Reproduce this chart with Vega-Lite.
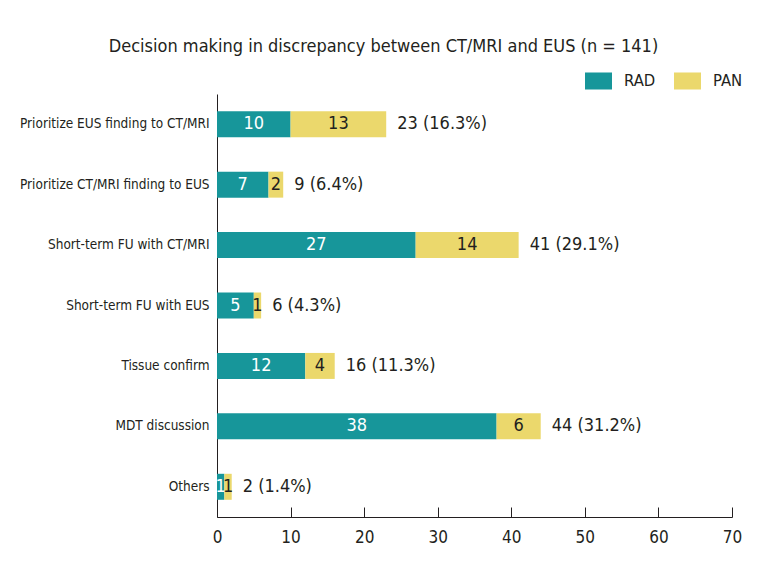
{
  "$schema": "https://vega.github.io/schema/vega-lite/v6.json",
  "width": 515,
  "height": 423,
  "autosize": "none",
  "padding": {"left": 217, "top": 94, "right": 29, "bottom": 58},
  "background": "white",
  "config": {"view": {"stroke": null}, "font": "DejaVu Sans Condensed"},
  "title": {
    "text": "Decision making in discrepancy between CT/MRI and EUS (n = 141)",
    "fontSize": 18,
    "fontWeight": "normal",
    "font": "DejaVu Sans Condensed",
    "color": "#231f20",
    "anchor": "middle",
    "dx": -91,
    "offset": 11
  },
  "datasets": {
    "bars": [
      {"category": "Prioritize EUS finding to CT/MRI", "group": "RAD", "value": 10},
      {"category": "Prioritize EUS finding to CT/MRI", "group": "PAN", "value": 13},
      {"category": "Prioritize CT/MRI finding to EUS", "group": "RAD", "value": 7},
      {"category": "Prioritize CT/MRI finding to EUS", "group": "PAN", "value": 2},
      {"category": "Short-term FU with CT/MRI", "group": "RAD", "value": 27},
      {"category": "Short-term FU with CT/MRI", "group": "PAN", "value": 14},
      {"category": "Short-term FU with EUS", "group": "RAD", "value": 5},
      {"category": "Short-term FU with EUS", "group": "PAN", "value": 1},
      {"category": "Tissue confirm", "group": "RAD", "value": 12},
      {"category": "Tissue confirm", "group": "PAN", "value": 4},
      {"category": "MDT discussion", "group": "RAD", "value": 38},
      {"category": "MDT discussion", "group": "PAN", "value": 6},
      {"category": "Others", "group": "RAD", "value": 1},
      {"category": "Others", "group": "PAN", "value": 1}
    ],
    "totals": [
      {"category": "Prioritize EUS finding to CT/MRI", "total": 23, "label": "23 (16.3%)"},
      {"category": "Prioritize CT/MRI finding to EUS", "total": 9, "label": "9 (6.4%)"},
      {"category": "Short-term FU with CT/MRI", "total": 41, "label": "41 (29.1%)"},
      {"category": "Short-term FU with EUS", "total": 6, "label": "6 (4.3%)"},
      {"category": "Tissue confirm", "total": 16, "label": "16 (11.3%)"},
      {"category": "MDT discussion", "total": 44, "label": "44 (31.2%)"},
      {"category": "Others", "total": 2, "label": "2 (1.4%)"}
    ]
  },
  "layer": [
    {
      "data": {"name": "bars"},
      "transform": [
        {"stack": "value", "groupby": ["category"], "sort": [{"field": "group", "order": "descending"}], "as": ["v0", "v1"]}
      ],
      "mark": {"type": "bar"},
      "encoding": {
        "y": {
          "field": "category",
          "type": "nominal",
          "scale": {
            "domain": ["Prioritize EUS finding to CT/MRI", "Prioritize CT/MRI finding to EUS", "Short-term FU with CT/MRI", "Short-term FU with EUS", "Tissue confirm", "MDT discussion", "Others"],
            "paddingInner": 0.57,
            "paddingOuter": 0.285
          },
          "axis": {
            "title": null,
            "ticks": false,
            "labelPadding": 8,
            "labelFontSize": 13.5,
            "labelFont": "DejaVu Sans Condensed",
            "labelColor": "#231f20",
            "domainColor": "#231f20",
            "labelLimit": 0
          }
        },
        "x": {
          "field": "v0",
          "type": "quantitative",
          "scale": {"domain": [0, 70]},
          "axis": {
            "title": null,
            "grid": false,
            "values": [0, 10, 20, 30, 40, 50, 60, 70],
            "tickSize": -10,
            "tickColor": "#231f20",
            "domainColor": "#231f20",
            "labelPadding": 22,
            "labelFlush": false,
            "labelFontSize": 17,
            "labelFont": "DejaVu Sans Condensed",
            "labelColor": "#231f20"
          }
        },
        "x2": {"field": "v1"},
        "color": {
          "field": "group",
          "type": "nominal",
          "scale": {"domain": ["RAD", "PAN"], "range": ["#17969a", "#ebd86c"]},
          "legend": {
            "title": null,
            "orient": "none",
            "legendX": 368,
            "legendY": -27,
            "direction": "horizontal",
            "labelFont": "DejaVu Sans Condensed",
            "labelFontSize": 16.5,
            "labelColor": "#231f20",
            "symbolType": "M-1,-0.63H1V0.63H-1Z",
            "symbolSize": 729,
            "symbolStrokeWidth": 0,
            "symbolOpacity": 1,
            "labelOffset": 12,
            "columnPadding": 18
          }
        }
      }
    },
    {
      "data": {"name": "bars"},
      "transform": [
        {"stack": "value", "groupby": ["category"], "sort": [{"field": "group", "order": "descending"}], "as": ["v0", "v1"]},
        {"fold": ["v0", "v1"], "as": ["edge", "pos"]}
      ],
      "mark": {"type": "text", "fontSize": 18, "font": "DejaVu Sans Condensed"},
      "encoding": {
        "y": {"field": "category", "type": "nominal"},
        "x": {"aggregate": "mean", "field": "pos", "type": "quantitative"},
        "detail": {"field": "group"},
        "text": {"aggregate": "max", "field": "value", "type": "quantitative"},
        "color": {"condition": {"test": "datum.group === 'RAD'", "value": "white"}, "value": "#231f20"}
      }
    },
    {
      "data": {"name": "totals"},
      "mark": {"type": "text", "align": "left", "dx": 11, "fontSize": 18, "font": "DejaVu Sans Condensed"},
      "encoding": {
        "y": {"field": "category", "type": "nominal"},
        "x": {"field": "total", "type": "quantitative"},
        "text": {"field": "label"},
        "color": {"value": "#231f20"}
      }
    }
  ]
}
